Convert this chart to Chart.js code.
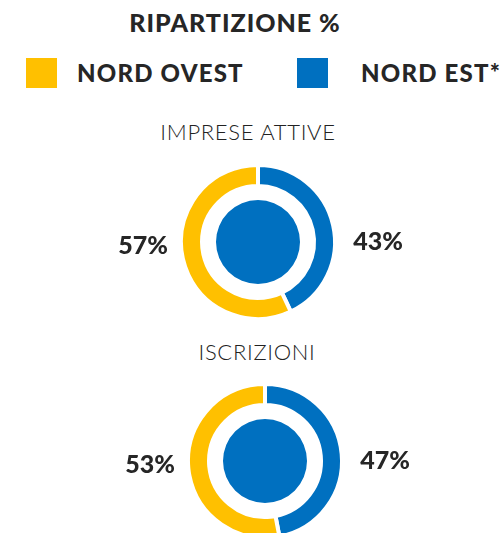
<!DOCTYPE html>
<html>
<head>
<meta charset="utf-8">
<script src="https://cdn.jsdelivr.net/npm/chart.js@4/dist/chart.umd.min.js"></script>
<style>
    html, body { margin: 0; padding: 0; background: #fff; width: 501px; height: 533px; overflow: hidden; }
    body { position: relative; font-family: Lato, "Open Sans", sans-serif; color: #262626; }
    .txt { position: absolute; line-height: 1; white-space: nowrap; }
    .title { top: 10px; left: 0; width: 470px; text-align: center; font-size: 25px; font-weight: 900; letter-spacing: 1px; }
    .leg { top: 61px; font-size: 24px; font-weight: 900; letter-spacing: 1.2px; }
    .swatch { position: absolute; top: 58px; width: 31px; height: 30px; }
    .sub { font-size: 22px; font-weight: 300; letter-spacing: 0.7px; text-align: center; color: #222; }
    canvas { position: absolute; }
</style>
</head>
<body>
<div class="txt title">RIPARTIZIONE %</div>
<div id="legend"></div>
<div class="txt sub" style="top:121px; left:98px; width:300px;">IMPRESE ATTIVE</div>
<canvas id="chartImprese" width="320" height="160" style="left:98px; top:162px;"></canvas>
<div class="txt sub" style="top:341px; left:107px; width:300px;">ISCRIZIONI</div>
<canvas id="chartIscrizioni" width="320" height="160" style="left:105px; top:381px;"></canvas>

<script>
// Data
const regions = ['NORD OVEST', 'NORD EST*'];
const regionColors = ['#FFC000', '#0070C0'];
const impreseAttive = [57, 43];
const iscrizioni = [53, 47];

// Legend (HTML)
const legendPos = [{ sw: 26, txt: 77 }, { sw: 297, txt: 361 }];
document.getElementById('legend').innerHTML = regions.map((r, i) => `
    <div class="swatch" style="left:${legendPos[i].sw}px; background:${regionColors[i]};"></div>
    <div class="txt leg" style="left:${legendPos[i].txt}px;">${r}</div>
`).join('');

// Draws the percentages left (NORD OVEST) and right (NORD EST) of the ring
const percentLabels = {
    id: 'percentLabels',
    afterDraw: (chart) => {
        const arc = chart.getDatasetMeta(0).data[0];
        const values = chart.data.datasets[0].data;
        const ctx = chart.ctx;
        ctx.save();
        ctx.font = '900 25px Lato, "Open Sans", sans-serif';
        ctx.fillStyle = '#262626';
        ctx.textAlign = 'center';
        ctx.textBaseline = 'alphabetic';
        // data is drawn reversed: index 1 = NORD OVEST, index 0 = NORD EST
        ctx.fillText(values[1] + '%', arc.x - 115, arc.y + 12);
        ctx.fillText(values[0] + '%', arc.x + 120, arc.y + 8);
        ctx.restore();
    }
};

const makeRing = (id, values) => {
    // blue (NORD EST) starts at the top and runs clockwise
    const ringData = values.slice().reverse();
    const ringColors = regionColors.slice().reverse();
    return new Chart(document.getElementById(id), {
        type: 'doughnut',
        data: {
            labels: regions.slice().reverse(),
            datasets: [
                {
                    data: ringData,
                    backgroundColor: ringColors,
                    borderColor: '#ffffff',
                    borderWidth: 4,
                    weight: 21
                },
                {
                    data: [1],
                    backgroundColor: 'rgba(0,0,0,0)',
                    borderWidth: 0,
                    weight: 14
                },
                {
                    data: [1],
                    backgroundColor: regionColors[1],
                    borderWidth: 0,
                    weight: 42
                }
            ]
        },
        options: {
            responsive: false,
            animation: false,
            devicePixelRatio: 1,
            cutout: 0,
            radius: 77,
            layout: { padding: 0 },
            events: [],
            plugins: {
                legend: { display: false },
                tooltip: { enabled: false }
            }
        },
        plugins: [percentLabels]
    });
};

document.fonts.load('900 25px Lato').then(() => {
    makeRing('chartImprese', impreseAttive);
    makeRing('chartIscrizioni', iscrizioni);
});
</script>
</body>
</html>
